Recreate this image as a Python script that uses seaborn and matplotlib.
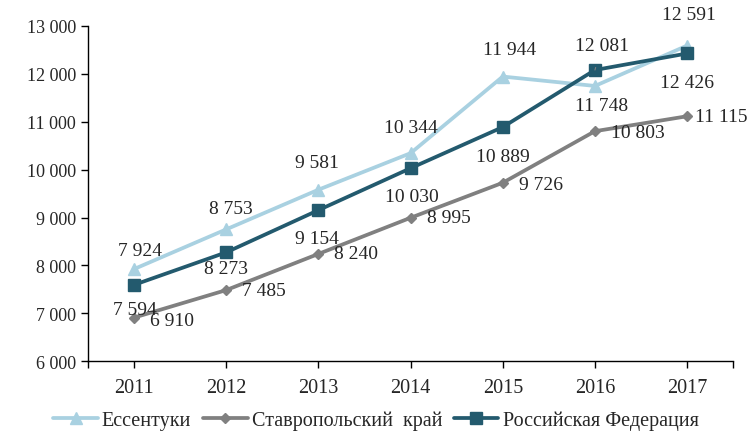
import numpy as np
import pandas as pd
import matplotlib
matplotlib.use('Agg')
import matplotlib.pyplot as plt
import seaborn as sns
from matplotlib.ticker import FuncFormatter, FixedLocator

# --- данные ---
years = [2011, 2012, 2013, 2014, 2015, 2016, 2017]
essentuki = [7924, 8753, 9581, 10344, 11944, 11748, 12591]
stavropol = [6910, 7485, 8240, 8995, 9726, 10803, 11115]
russia = [7594, 8273, 9154, 10030, 10889, 12081, 12426]
series_names = ['Ессентуки', 'Ставропольский  край', 'Российская Федерация']

sns.set_style('white')
plt.rcParams['font.family'] = ['Liberation Serif', 'DejaVu Serif']
plt.rcParams['font.size'] = 14

fig = plt.figure(figsize=(7.52, 4.39), dpi=100)
ax = fig.add_axes([0.117, 0.175, 0.858, 0.7635])

colors = ['#A9D1E1', '#808080', '#235A6E']
markers = ['^', 'D', 's']
msizes = [8, 5.5, 8]
values = [essentuki, stavropol, russia]

for name, vals, c, m, ms in zip(series_names, values, colors, markers, msizes):
    df = pd.DataFrame({'year': years, 'value': vals})
    sns.lineplot(data=df, x='year', y='value', ax=ax, color=c, marker=m,
                 markersize=ms, markeredgecolor=c, markeredgewidth=1,
                 linewidth=2.7, label=name)

# подписи значений (смещения в пикселях)
ess_off = [(6, 19), (5, 21), (-1, 27), (0, 26), (7, 27), (7, -20), (2, 31)]
rf_off = [(1, -25), (0, -16), (-1, -28), (1, -28), (0, -29), (7, 25), (0, -29)]
st_off = [(16, -3), (16, 0), (16, 0), (16, 0), (16, -2), (16, -1), (8, 0)]

def fmt(v):
    return f'{v:,.0f}'.replace(',', ' ')

for x, v, (dx, dy) in zip(years, essentuki, ess_off):
    ax.annotate(fmt(v), (x, v), xytext=(dx, dy), textcoords='offset pixels',
                ha='center', va='center', fontsize=14)
for x, v, (dx, dy) in zip(years, russia, rf_off):
    arrow = None
    if x == 2016:
        arrow = dict(arrowstyle='-', color='#808080', lw=0.8, shrinkA=8, shrinkB=3)
    ax.annotate(fmt(v), (x, v), xytext=(dx, dy), textcoords='offset pixels',
                ha='center', va='center', fontsize=14, arrowprops=arrow)
for x, v, (dx, dy) in zip(years, stavropol, st_off):
    ax.annotate(fmt(v), (x, v), xytext=(dx, dy), textcoords='offset pixels',
                ha='left', va='center', fontsize=14)

ax.set_xlim(2010.5, 2017.5)
ax.set_ylim(6000, 13000)
ax.set_yticks(np.arange(6000, 13001, 1000))
ax.yaxis.set_major_formatter(FuncFormatter(lambda v, p: fmt(v)))
ax.set_xticks(years)
ax.set_xticklabels([str(y) for y in years])
ax.xaxis.set_minor_locator(FixedLocator([2010.5, 2017.5]))
ax.set_xlabel('')
ax.set_ylabel('')

sns.despine(ax=ax)
for s in ['left', 'bottom']:
    ax.spines[s].set_color('black')
    ax.spines[s].set_linewidth(1)
ax.tick_params(axis='both', which='both', direction='out', length=5, width=1,
               color='black', left=True, bottom=True)
ax.tick_params(axis='y', labelsize=13)
ax.tick_params(axis='x', labelsize=14.5, pad=7)
ax.grid(False)

handles, labels = ax.get_legend_handles_labels()
ax.legend(handles, labels, loc='center', ncol=3, frameon=False,
          fontsize=14.5, handlelength=2.2, columnspacing=0.6, handletextpad=0.2)
ax.get_legend().set_bbox_to_anchor((0.5, 0.04), transform=fig.transFigure)

fig.savefig('out.png', dpi=100)
